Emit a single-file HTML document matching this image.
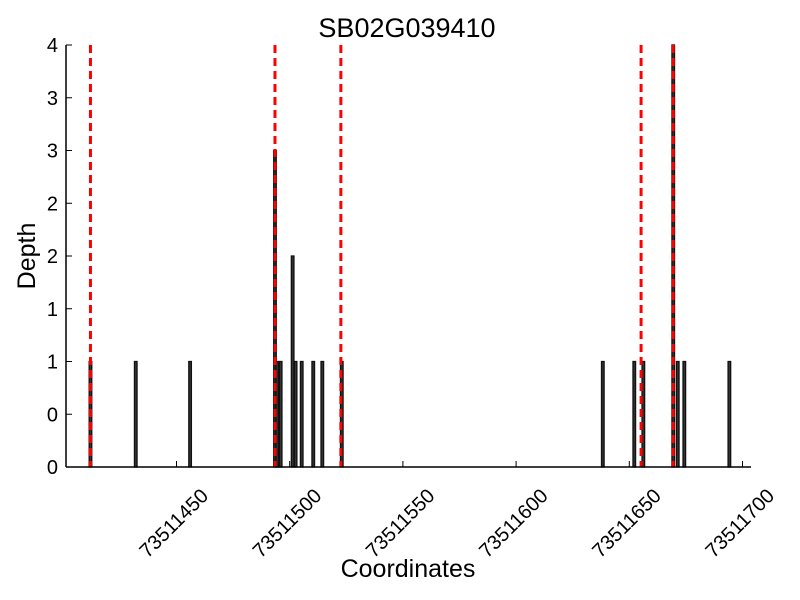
<!DOCTYPE html>
<html><head><meta charset="utf-8"><style>
html,body{margin:0;padding:0;background:#fff;}
svg{display:block;font-family:"Liberation Sans",sans-serif;}
</style></head><body>
<svg id="chart" width="800" height="600">
<text x="407" y="37" font-size="27" text-anchor="middle">SB02G039410</text>
<text x="35" y="256" font-size="25" text-anchor="middle" transform="rotate(-90 35 256)">Depth</text>
<text x="408" y="577" font-size="25" text-anchor="middle">Coordinates</text>
<g id="bars"></g><g id="reds"></g><g id="axes"></g>
</svg>
<script>
const positions = [73511412,73511432,73511456,73511493.5,73511494.5,73511496,73511501.3,73511502.6,73511505.3,73511510.4,73511514.4,73511523,73511638.3,73511652.2,73511656.2,73511669.4,73511671.4,73511674.3,73511694.2];
const depths = [1,1,1,3,1,1,2,1,1,1,1,1,1,1,1,4,1,1,1];
const markers = [73511412,73511493.5,73511522.6,73511655.2,73511669.4];
const xTicks = [73511450,73511500,73511550,73511600,73511650,73511700];
const yTicks = [0,0.5,1,1.5,2,2.5,3,3.5,4];
const NS='http://www.w3.org/2000/svg';
const X0=66,X1=751,Y0=467,Y1=45;
function sx(v){return 176.5+(v-73511450)*2.264;}
function sy(v){return Y0-(v/4)*(Y0-Y1);}
function mk(t,a,parent){const e=document.createElementNS(NS,t);for(const k in a)e.setAttribute(k,a[k]);parent.appendChild(e);return e;}
const gb=document.getElementById('bars'),gr=document.getElementById('reds'),ga=document.getElementById('axes');
positions.forEach((p,i)=>{
  const w=2.6;
  const r=mk('rect',{x:sx(p)-w/2,y:sy(depths[i]),width:w,height:Y0-sy(depths[i]),fill:'#333',stroke:'#111','stroke-width':1.3},gb);
  
  
});
markers.forEach(m=>{
  const l=mk('line',{x1:sx(m),x2:sx(m),y1:Y1,y2:Y0,stroke:'#ff0000','stroke-width':3,'stroke-dasharray':'8,5'},gr);
  
  
});
const ya=mk('line',{x1:X0,x2:X0,y1:Y1,y2:Y0,stroke:'#000','stroke-width':1.5},ga);


const xa=mk('line',{x1:X0,x2:X1,y1:Y0,y2:Y0,stroke:'#000','stroke-width':1.5},ga);


yTicks.forEach(t=>{
  mk('line',{x1:X0,x2:X0+6,y1:sy(t),y2:sy(t),stroke:'#000','stroke-width':1},ga);
  const tx=mk('text',{x:X0-8,y:sy(t)+7,'font-size':20,'text-anchor':'end'},ga);
  tx.textContent=Math.floor(t);
  
  
});
xTicks.forEach(t=>{
  const x=sx(t);
  mk('line',{x1:x,x2:x,y1:Y0,y2:Y0-6,stroke:'#000','stroke-width':1},ga);
  const ax=x+33, ay=Y0+30;
  const tx=mk('text',{x:ax,y:ay,'font-size':20,'text-anchor':'end',transform:`rotate(-45 ${ax} ${ay})`},ga);
  tx.textContent=t;
  
  
});
</script>
</body></html>
